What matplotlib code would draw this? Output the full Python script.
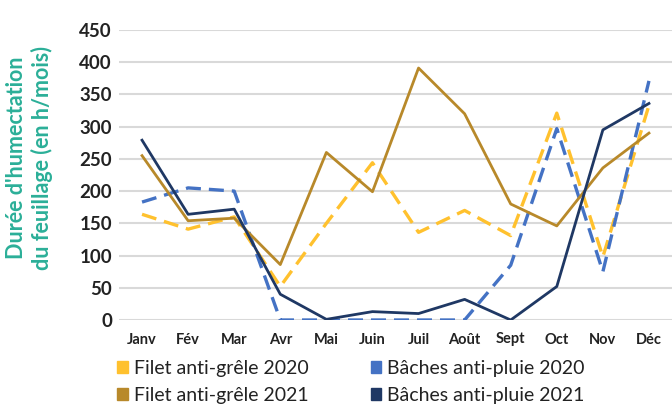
import matplotlib
matplotlib.use("Agg")
import matplotlib.pyplot as plt
from matplotlib.patches import Patch

months = ["Janv", "Fév", "Mar", "Avr", "Mai", "Juin", "Juil", "Août", "Sept", "Oct", "Nov", "Déc"]
filet_2020 = [164, 141, 160, 52, 150, 244, 136, 170, 131, 321, 98, 333]
baches_2020 = [183, 205, 200, 0, 0, 0, 0, 0, 85, 297, 75, 371]
filet_2021 = [255, 154, 158, 86, 260, 199, 391, 320, 180, 146, 236, 290]
baches_2021 = [279, 164, 172, 40, 1, 13, 10, 32, 0, 52, 295, 336]
yticks = [0, 50, 100, 150, 200, 250, 300, 350, 400, 450]

c_f20 = "#FFC12E"
c_b20 = "#4472C4"
c_f21 = "#B8892A"
c_b21 = "#1F3864"

plt.rcParams['font.family'] = ['Lato', 'DejaVu Sans']

fig = plt.figure(figsize=(6.72, 4.05), dpi=100)
ax = fig.add_axes([119/672, 85/405, 1 - 119/672, 290/405])

x = list(range(len(months)))
ax.plot(x, filet_2020, color=c_f20, lw=2.4, dashes=(4.5, 2.4), zorder=3)
ax.plot(x, baches_2020, color=c_b20, lw=2.4, dashes=(4.5, 2.4), zorder=3)
ax.plot(x, filet_2021, color=c_f21, lw=2.0, zorder=4)
ax.plot(x, baches_2021, color=c_b21, lw=2.0, zorder=5)

ax.set_xlim(-0.5, 11.5)
ax.set_ylim(0, 450)
ax.set_yticks(yticks)
ax.set_yticklabels([str(v) for v in yticks], fontsize=13.5, fontweight='bold', color='#222222')
ax.set_xticks(x)
ax.set_xticklabels(months, fontsize=10.5, fontweight='bold', color='#222222')
ax.tick_params(axis='both', length=0)
ax.tick_params(axis='y', pad=5)
ax.tick_params(axis='x', pad=9)
ax.grid(axis='y', color='#d9d9d9', lw=1.5, zorder=0)
ax.set_axisbelow(True)
for s in ax.spines.values():
    s.set_visible(False)

fig.text(17/672, 1 - 158/405, "Durée d'humectation", rotation=90, ha='center', va='center',
         fontsize=15.5, fontweight='bold', color='#2BAF98')
fig.text(42/672, 1 - 158/405, "du feuillage (en h/mois)", rotation=90, ha='center', va='center',
         fontsize=15.5, fontweight='bold', color='#2BAF98')

handles = [Patch(color=c_f20), Patch(color=c_f21), Patch(color=c_b20), Patch(color=c_b21)]
labels = ["Filet anti-grêle 2020", "Filet anti-grêle 2021", "Bâches anti-pluie 2020", "Bâches anti-pluie 2021"]
fig.legend(handles, labels, ncol=2, loc='upper left', bbox_to_anchor=(117/672, 1 - 360/405),
           frameon=False, fontsize=14, handlelength=0.55, handleheight=0.55, handletextpad=0.3,
           columnspacing=3.2, labelspacing=0.5, labelcolor='#222222', borderaxespad=0, borderpad=0)

fig.savefig("out.png", dpi=100)
